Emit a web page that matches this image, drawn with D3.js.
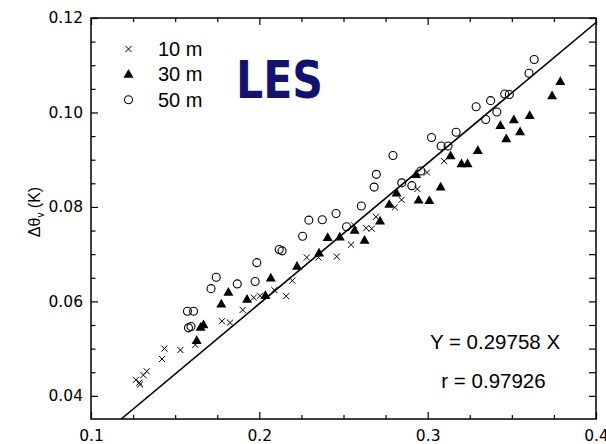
<!DOCTYPE html>
<html>
<head>
<meta charset="utf-8">
<script src="https://cdn.jsdelivr.net/npm/d3@7"></script>
<style>
  html, body { margin: 0; padding: 0; background: #fff; }
  svg { display: block; }
</style>
</head>
<body>
<svg id="chart" width="606" height="444"></svg>
<script>
// Buoyancy temperature jump at three heights (10 m, 30 m, 50 m)
const x10 = [0.1267, 0.1287, 0.1291, 0.1311, 0.1331, 0.1422, 0.1436, 0.1531, 0.1620, 0.1778,
             0.1826, 0.1901, 0.1967, 0.2004, 0.2089, 0.2159, 0.2196, 0.2282, 0.2351, 0.2460,
             0.2545, 0.2563, 0.2635, 0.2668, 0.2693, 0.2805, 0.2845, 0.2939, 0.2996, 0.3098];
const y10 = [0.0434, 0.0428, 0.0424, 0.0444, 0.0452, 0.0478, 0.0500, 0.0497, 0.0508, 0.0558,
             0.0555, 0.0582, 0.0608, 0.0612, 0.0624, 0.0611, 0.0644, 0.0693, 0.0693, 0.0695,
             0.0720, 0.0761, 0.0755, 0.0754, 0.0779, 0.0799, 0.0815, 0.0838, 0.0873, 0.0897];

const x30 = [0.1628, 0.1651, 0.1668, 0.1774, 0.1816, 0.1927, 0.2036, 0.2068, 0.2224, 0.2355,
             0.2406, 0.2478, 0.2566, 0.2625, 0.2717, 0.2772, 0.2815, 0.2931, 0.2946, 0.3010,
             0.3077, 0.3136, 0.3201, 0.3237, 0.3298, 0.3432, 0.3467, 0.3512, 0.3549, 0.3606,
             0.3739, 0.3788];
const y30 = [0.0517, 0.0545, 0.0550, 0.0594, 0.0619, 0.0604, 0.0612, 0.0649, 0.0674, 0.0702,
             0.0735, 0.0736, 0.0750, 0.0729, 0.0770, 0.0805, 0.0829, 0.0868, 0.0814, 0.0813,
             0.0842, 0.0908, 0.0891, 0.0891, 0.0919, 0.0972, 0.0944, 0.0984, 0.0959, 0.0993,
             0.1035, 0.1065];

const x50 = [0.1579, 0.1594, 0.1573, 0.1609, 0.1713, 0.1744, 0.1869, 0.1975, 0.1985, 0.2118,
             0.2135, 0.2257, 0.2294, 0.2374, 0.2456, 0.2518, 0.2606, 0.2682, 0.2695, 0.2794,
             0.2846, 0.2906, 0.2960, 0.3023, 0.3080, 0.3121, 0.3169, 0.3288, 0.3345, 0.3374,
             0.3411, 0.3458, 0.3485, 0.3602, 0.3633];
const y50 = [0.0544, 0.0547, 0.0579, 0.0579, 0.0627, 0.0651, 0.0637, 0.0642, 0.0682, 0.0710,
             0.0707, 0.0738, 0.0772, 0.0773, 0.0786, 0.0758, 0.0802, 0.0842, 0.0869, 0.0909,
             0.0851, 0.0845, 0.0876, 0.0947, 0.0929, 0.0929, 0.0958, 0.1012, 0.0985, 0.1025,
             0.1001, 0.1039, 0.1038, 0.1083, 0.1112];

// Fit through the origin
const slope = 0.29758;
const rValue = 0.97926;

const xTicks = [0.1, 0.2, 0.3, 0.4];
const yTicks = [0.04, 0.06, 0.08, 0.10, 0.12];
const xMinor = [0.125, 0.15, 0.175, 0.225, 0.25, 0.275, 0.325, 0.35, 0.375];
const yMinor = [0.045, 0.05, 0.055, 0.065, 0.07, 0.075, 0.085, 0.09, 0.095, 0.105, 0.11, 0.115];

const legendLabels = ["10 m", "30 m", "50 m"];

const svg = d3.select("#chart");
const L = 91, R = 596, T = 18, B = 419;

const x = d3.scaleLinear().domain([0.1, 0.4]).range([L, R]);
const y = d3.scaleLinear().domain([0.0351, 0.12]).range([B, T]);

const tickFont = "'DejaVu Sans', sans-serif";
const textFont = "'Liberation Sans', Arial, sans-serif";

function styleAxis(g) {
  g.select(".domain").remove();
  g.selectAll("line").attr("stroke", "#000").attr("stroke-width", 1.2);
  g.selectAll("text").attr("font-family", tickFont).attr("font-size", "15.5px").attr("fill", "#000");
}

// bottom axis: labels + inward ticks
svg.append("g").attr("transform", `translate(0,${B})`)
  .call(d3.axisBottom(x).tickValues(xTicks).tickFormat(d3.format(".1f")).tickSize(-7).tickPadding(11))
  .call(styleAxis);
svg.append("g").attr("transform", `translate(0,${B})`)
  .call(d3.axisBottom(x).tickValues(xMinor).tickFormat("").tickSize(-4))
  .call(styleAxis);
// top axis ticks
svg.append("g").attr("transform", `translate(0,${T})`)
  .call(d3.axisTop(x).tickValues(xTicks).tickFormat("").tickSize(-7))
  .call(styleAxis);
svg.append("g").attr("transform", `translate(0,${T})`)
  .call(d3.axisTop(x).tickValues(xMinor).tickFormat("").tickSize(-4))
  .call(styleAxis);
// left axis
svg.append("g").attr("transform", `translate(${L},0)`)
  .call(d3.axisLeft(y).tickValues(yTicks).tickFormat(d3.format(".2f")).tickSize(-7).tickPadding(8))
  .call(styleAxis);
svg.append("g").attr("transform", `translate(${L},0)`)
  .call(d3.axisLeft(y).tickValues(yMinor).tickFormat("").tickSize(-4.5))
  .call(styleAxis);
// right axis
svg.append("g").attr("transform", `translate(${R},0)`)
  .call(d3.axisRight(y).tickValues(yTicks.concat(yMinor)).tickFormat("").tickSize(-7))
  .call(styleAxis);

// frame
svg.append("rect").attr("x", L).attr("y", T).attr("width", R - L).attr("height", B - T)
  .attr("fill", "none").attr("stroke", "#000").attr("stroke-width", 1.5);

// y-axis title
const yt = svg.append("text")
  .attr("transform", "translate(40,212) rotate(-90)")
  .attr("text-anchor", "middle")
  .attr("font-family", textFont).attr("font-size", "16px").attr("fill", "#000");
yt.append("tspan").text("Δθ");
yt.append("tspan").attr("font-size", "10px").attr("dy", 4).text("v");
yt.append("tspan").attr("dy", -4).text(" (K)");

// clip for the fit line
svg.append("clipPath").attr("id", "plotClip")
  .append("rect").attr("x", L).attr("y", T).attr("width", R - L).attr("height", B - T);

const xLo = y.domain()[0] / slope;
const fitLine = d3.line().x(d => x(d)).y(d => y(slope * d));
svg.append("path")
  .attr("clip-path", "url(#plotClip)")
  .attr("d", fitLine([xLo, 0.4]))
  .attr("fill", "none").attr("stroke", "#000").attr("stroke-width", 1.6);

// marker shapes
const crossPath = d3.symbol().type(d3.symbolX).size(26)();
const triPath = "M0,-5.4L5,3.3L-5,3.3Z";

function drawCross(g, cx, cy) {
  g.append("path").attr("d", crossPath).attr("transform", `translate(${cx},${cy})`)
    .attr("fill", "none").attr("stroke", "#000").attr("stroke-width", 1);
}
function drawTri(g, cx, cy) {
  g.append("path").attr("d", triPath).attr("transform", `translate(${cx},${cy})`).attr("fill", "#000");
}
function drawCircle(g, cx, cy) {
  g.append("circle").attr("cx", cx).attr("cy", cy).attr("r", 4)
    .attr("fill", "none").attr("stroke", "#000").attr("stroke-width", 1.1);
}

const pts = svg.append("g");
x50.forEach((v, i) => drawCircle(pts, x(v), y(y50[i])));
x10.forEach((v, i) => drawCross(pts, x(v), y(y10[i])));
x30.forEach((v, i) => drawTri(pts, x(v), y(y30[i])));

// legend
const leg = svg.append("g");
const drawers = [drawCross, drawTri, drawCircle];
legendLabels.forEach((lab, i) => {
  const cy = 49 + i * 25.4;
  drawers[i](leg, 128.5, cy);
  leg.append("text").attr("x", 158).attr("y", cy + 7)
    .attr("font-family", textFont).attr("font-size", "20px").attr("fill", "#000").text(lab);
});

// LES tag
svg.append("text").attr("x", 236).attr("y", 98)
  .attr("font-family", "'DejaVu Sans', sans-serif").attr("font-weight", "bold")
  .attr("font-size", "52px").attr("fill", "#13136e")
  .attr("textLength", 87).attr("lengthAdjust", "spacingAndGlyphs")
  .text("LES");

// fit annotation
svg.append("text").attr("x", 495).attr("y", 349)
  .attr("text-anchor", "middle").attr("font-family", textFont).attr("font-size", "20.5px")
  .text(`Y = ${slope} X`);
svg.append("text").attr("x", 493.5).attr("y", 388)
  .attr("text-anchor", "middle").attr("font-family", textFont).attr("font-size", "20.5px")
  .text(`r = ${rValue}`);
</script>
</body>
</html>
